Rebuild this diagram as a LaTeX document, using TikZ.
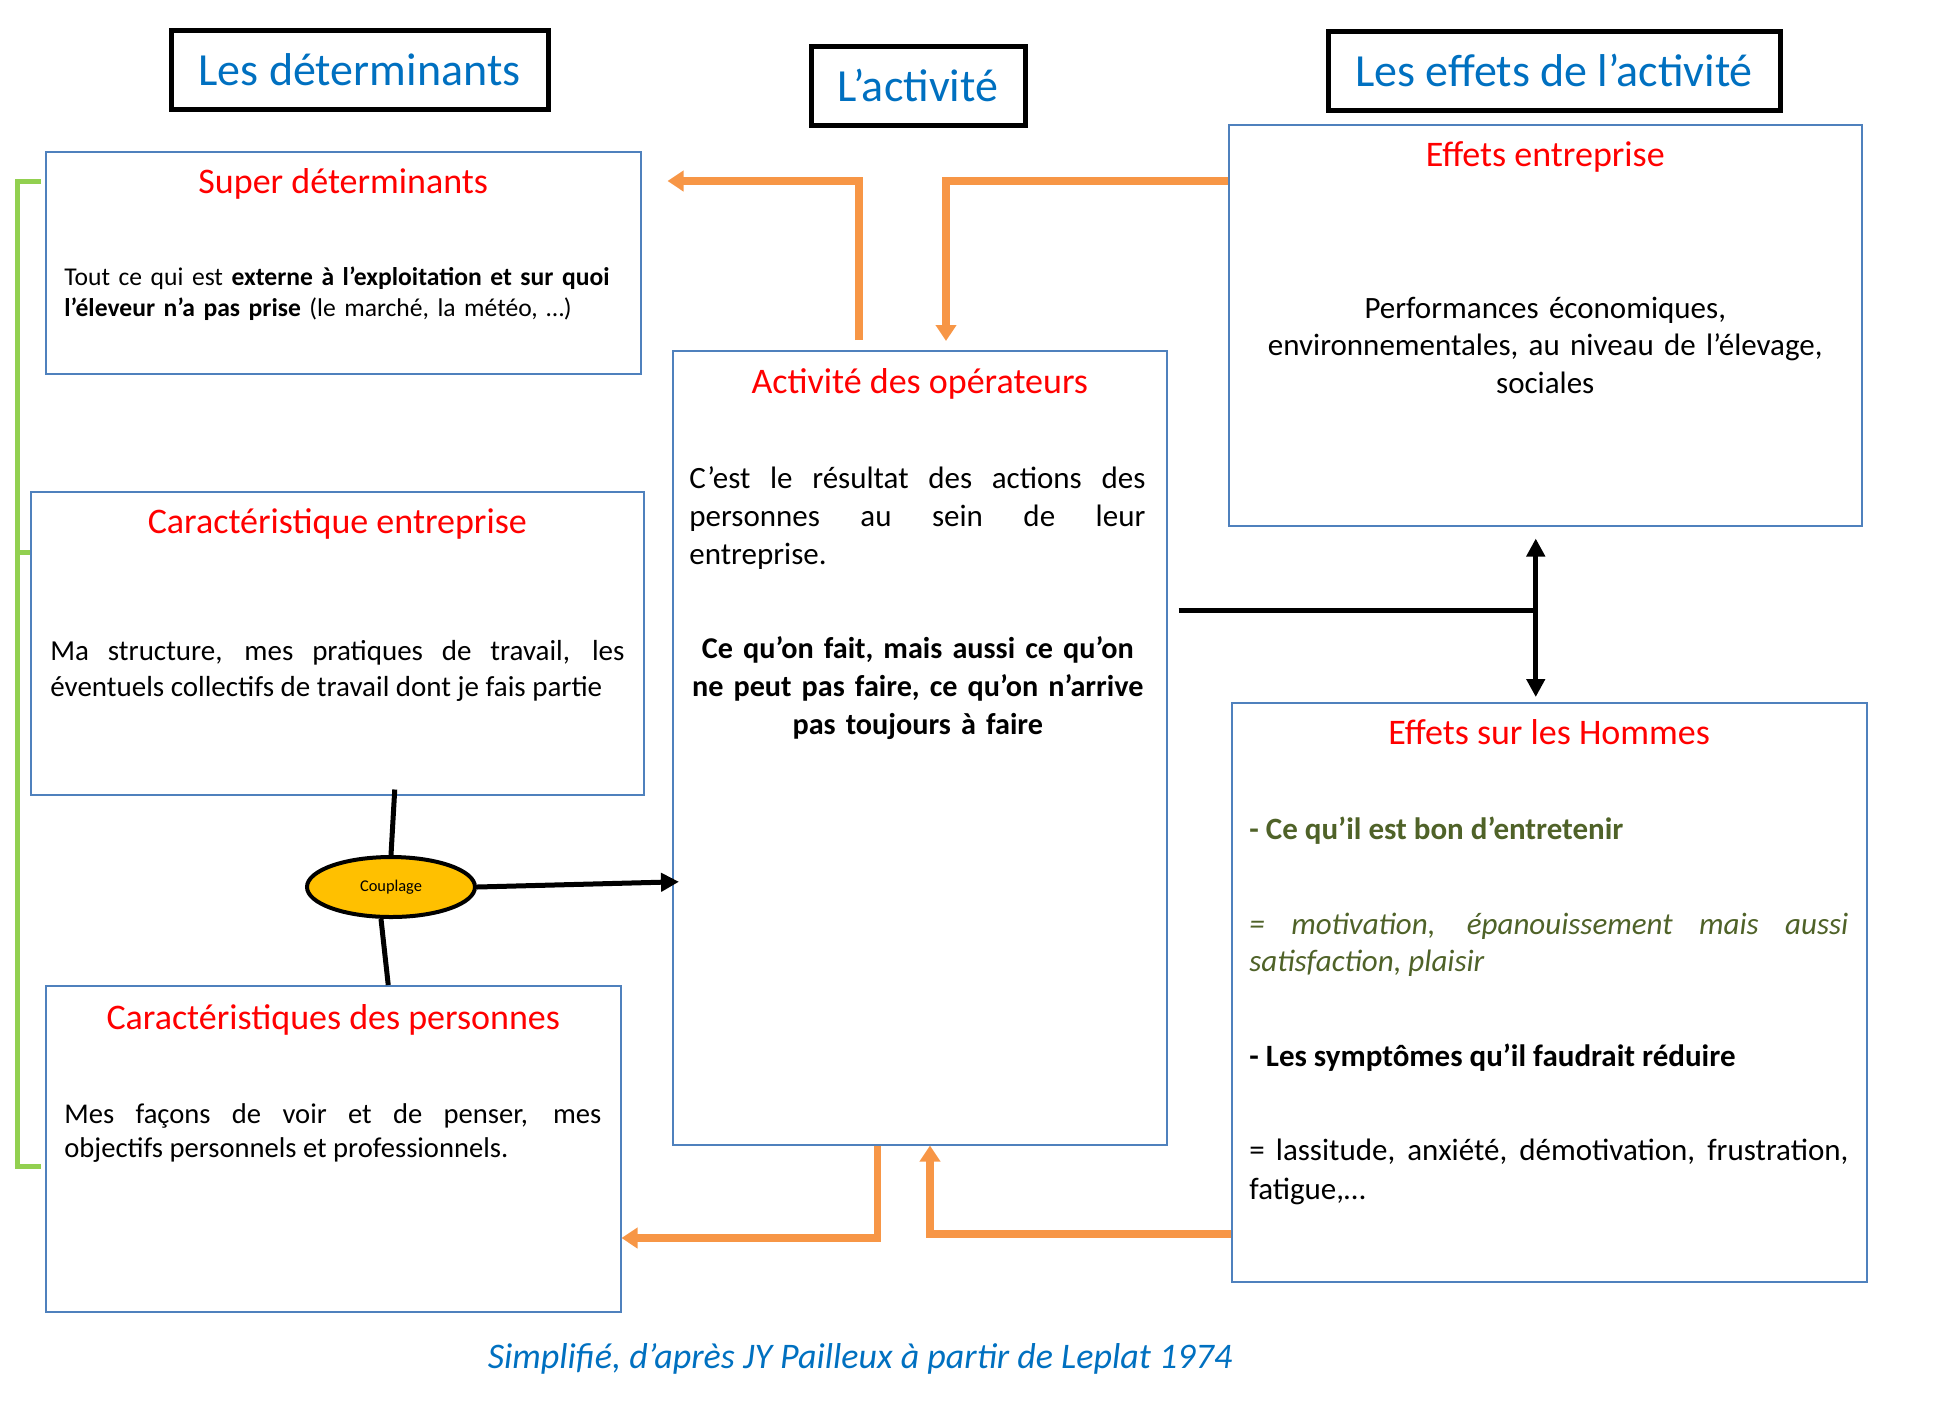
\documentclass[tikz,border=0pt]{standalone}
\usepackage{fontspec}
\setmainfont{Carlito}
\usepackage{tikz}
\usetikzlibrary{arrows.meta,positioning,calc,shapes.geometric}
\definecolor{titleblue}{HTML}{0070C0}
\definecolor{panelblue}{HTML}{4F81BD}
\definecolor{headred}{HTML}{FF0000}
\definecolor{feedorange}{HTML}{F79646}
\definecolor{groupgreen}{HTML}{92D050}
\definecolor{olive}{HTML}{4F6228}
\definecolor{couplingfill}{HTML}{FFC000}
\hyphenpenalty=10000 \exhyphenpenalty=10000 \tolerance=9999

\begin{document}
\begin{tikzpicture}[x=0.5pt, y=-0.5pt, every node/.style={inner sep=0pt}, >={Triangle}]
\tikzstyle{titlebox}=[draw, line width=2.5pt, text=titleblue, font=\fontsize{23}{28}\selectfont, minimum height=39.5pt]
\tikzstyle{panel}=[draw=panelblue, line width=0.75pt, anchor=north west]
\tikzstyle{head}=[text=headred, font=\fontsize{18}{22}\selectfont, anchor=base]
\tikzstyle{body}=[anchor=base west, align=justify, font=\fontsize{15.5}{18.75}\selectfont]
\tikzstyle{feed}=[draw=feedorange, line width=3.75pt, -{Triangle[length=8pt,width=10pt]}]
\tikzstyle{link}=[line width=2.5pt, -{Triangle[length=9pt,width=9pt]}]
\tikzstyle{grp}=[draw=groupgreen, line width=2.5pt]
\useasboundingbox (0,0) rectangle (1960,1410);

\node[titlebox, minimum width=188.5pt] (det) at (359.5,69.5) {Les déterminants};
\node[titlebox, minimum width=107pt] (actT) at (918,85.5) {L’activité};
\node[titlebox, minimum width=226pt] (eff) at (1554,70.5) {Les effets de l’activité};

\node[panel, minimum width=297.5pt, minimum height=111pt] (sup) at (45,151) {};
\node[panel, minimum width=306.5pt, minimum height=151.5pt] (ent) at (30,491) {};
\node[panel, minimum width=287.5pt, minimum height=163pt] (pers) at (45,985) {};
\node[panel, minimum width=247pt, minimum height=397pt] (act) at (672,350) {};
\node[panel, minimum width=316.5pt, minimum height=200.5pt] (effE) at (1228,124) {};
\node[panel, minimum width=317.5pt, minimum height=289.5pt] (hom) at (1231,702) {};

\node[head] (supH) at ($(sup.north)+(0,42)$) {Super déterminants};
\node[head] (entH) at ($(ent.north)+(0,42)$) {Caractéristique entreprise};
\node[head] (persH) at ($(pers.north)+(0,44)$) {Caractéristiques des personnes};
\node[head] (actH) at ($(act.north)+(0,43)$) {Activité des opérateurs};
\node[head] (effEH) at ($(effE.north)+(0,42)$) {Effets entreprise};
\node[head] (homH) at ($(hom.north)+(0,42)$) {Effets sur les Hommes};

\node[body, align=left, text width=290pt, font=\fontsize{12.8}{15.6}\selectfont] (supB) at ($(sup.north west)+(19,134)$)
  {Tout ce qui est \textbf{externe à l’exploitation et sur quoi}\\\textbf{l’éleveur n’a pas prise} (le marché, la météo, …)};
\node[body, text width=287pt, font=\fontsize{14.5}{18}\selectfont] (entB) at ($(ent.north west)+(20,169)$)
  {Ma structure, mes pratiques de travail, les\linebreak éventuels collectifs de travail dont je fais partie};
\node[body, text width=268.5pt, font=\fontsize{14.3}{17}\selectfont] (persB) at ($(pers.north west)+(19,138)$)
  {Mes façons de voir et de penser, mes\linebreak objectifs personnels et professionnels.};
\node[body, text width=228pt, font=\fontsize{15.5}{19}\selectfont] (actB) at ($(act.north west)+(17,138)$)
  {C’est le résultat des actions des\linebreak personnes au sein de leur\linebreak entreprise.};
\node[body, anchor=base, align=center, text width=240pt, font=\bfseries\fontsize{15.1}{19}\selectfont] (actF) at ($(act.north)+(-2,308)$)
  {Ce qu’on fait, mais aussi ce qu’on\\ne peut pas faire, ce qu’on n’arrive\\pas toujours à faire};
\node[body, anchor=base, align=center, text width=300pt] (effEB) at ($(effE.north)+(0,194)$)
  {Performances économiques,\\environnementales, au niveau de l’élevage,\\sociales};
\node[body, text width=299.5pt, text=olive, font=\bfseries\fontsize{15.5}{18.75}\selectfont] (hom1) at ($(hom.north west)+(18,137)$)
  {- Ce qu’il est bon d’entretenir};
\node[body, text width=299.5pt, text=olive, font=\itshape\fontsize{15.5}{18.5}\selectfont] (hom2) at ($(hom.north west)+(18,232)$)
  {= motivation, épanouissement mais aussi\linebreak satisfaction, plaisir};
\node[body, text width=299.5pt, font=\bfseries\fontsize{15.5}{18.75}\selectfont] (hom3) at ($(hom.north west)+(18,364)$)
  {- Les symptômes qu’il faudrait réduire};
\node[body, text width=299.5pt, font=\fontsize{15.5}{19.5}\selectfont] (hom4) at ($(hom.north west)+(18,458)$)
  {= lassitude, anxiété, démotivation, frustration,\linebreak fatigue,…};

\node[ellipse, draw, line width=2pt, fill=couplingfill, minimum width=84pt, minimum height=30pt, font=\fontsize{8.2}{10}\selectfont] (cpl) at (391,887) {Couplage};
\node[text=titleblue, font=\itshape\fontsize{18}{22}\selectfont] (src) at (860,1359) {Simplifié, d’après JY Pailleux à partir de Leplat 1974};

\draw[grp] ($(sup.north west)+(-4,30)$) -| ($(pers.north west)+(-27.5,181)$) -- ($(pers.north west)+(-4,181)$);
\draw[grp] ($(ent.north west)+(-12.5,61)$) -- ($(ent.north west)+(0,61)$);

\draw[feed] ($(act.north west)+(187,-10)$) |- ($(sup.north east)+(26,30)$);
\draw[feed] ($(effE.north west)+(0,57)$) -| ($(act.north west)+(274,-9)$);
\draw[feed] ($(act.south west)+(205.5,0)$) |- ($(pers.north east)+(0,253)$);
\draw[feed] ($(hom.north west)+(0,532)$) -| ($(act.south west)+(258,0)$);

\coordinate (jL) at ($(act.east)+(11,-137)$);
\coordinate (jTop) at ($(effE.south)+(-9.5,12)$);
\coordinate (jBot) at ($(hom.north)+(-13.5,-5)$);
\draw[line width=2.5pt] (jL) -- (jL -| jTop);
\draw[link, {Triangle[length=9pt,width=9pt]}-{Triangle[length=9pt,width=9pt]}] (jTop) -- (jBot);

\draw[line width=2.5pt] (cpl.north) -- ($(ent.south)+(57.5,-6)$);
\draw[line width=2.5pt] ([xshift=-5pt]cpl.south) -- ($(pers.north)+(55,0)$);
\draw[link] (cpl.east) -- ($(act.west)+(7,134)$);
\end{tikzpicture}
\end{document}
